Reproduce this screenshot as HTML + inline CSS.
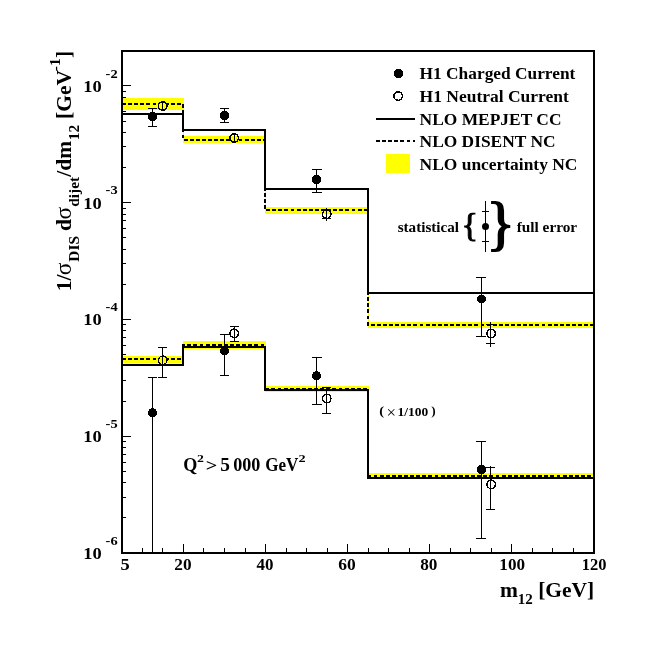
<!DOCTYPE html>
<html><head><meta charset="utf-8"><title>dijet mass</title>
<style>
html,body{margin:0;padding:0;background:#fff;}
body{width:656px;height:654px;overflow:hidden;}
svg{display:block;}
text{font-family:"Liberation Serif","DejaVu Serif",serif;font-weight:bold;fill:#000;}
</style></head><body>
<svg width="656" height="654" viewBox="0 0 656 654">
<rect x="0" y="0" width="656" height="654" fill="#fff"/>
<g shape-rendering="crispEdges">
<rect x="122.0" y="98.0" width="62.0" height="12.0" fill="#ffff00"/>
<rect x="183.0" y="110.0" width="1" height="26.0" fill="#ffff00"/>
<rect x="183.0" y="136.0" width="83.0" height="7.0" fill="#ffff00"/>
<rect x="265.0" y="143.0" width="1" height="64.0" fill="#ffff00"/>
<rect x="265.0" y="207.0" width="104.0" height="7.0" fill="#ffff00"/>
<rect x="368.0" y="214.0" width="1" height="108.0" fill="#ffff00"/>
<rect x="368.0" y="322.0" width="226.0" height="6.0" fill="#ffff00"/>
<rect x="122.0" y="356.0" width="62.0" height="7.0" fill="#ffff00"/>
<rect x="183.0" y="349.0" width="1" height="7.0" fill="#ffff00"/>
<rect x="183.0" y="341.0" width="83.0" height="8.0" fill="#ffff00"/>
<rect x="265.0" y="349.0" width="1" height="37.0" fill="#ffff00"/>
<rect x="265.0" y="386.0" width="104.0" height="6.0" fill="#ffff00"/>
<rect x="368.0" y="392.0" width="1" height="81.0" fill="#ffff00"/>
<rect x="368.0" y="473.0" width="226.0" height="5.0" fill="#ffff00"/>
<rect x="386" y="154" width="24" height="19" fill="#ffff00"/>
<path d="M122.0 104.0 H183.0 V140.0 H265.0 V210.0 H368.0 V325.0 H594.0" fill="none" stroke="#000" stroke-width="2" stroke-dasharray="3.9 2.2"/>
<path d="M122.0 359.0 H183.0 V345.0 H265.0 V389.0 H368.0 V476.0 H594.0" fill="none" stroke="#000" stroke-width="2" stroke-dasharray="3.9 2.2"/>
<path d="M122.0 114.0 H183.0 V130.0 H265.0 V189.0 H368.0 V293.0 H594.0" fill="none" stroke="#000" stroke-width="2" stroke-linejoin="miter"/>
<path d="M122.0 365.0 H183.0 V347.0 H265.0 V390.0 H368.0 V478.0 H594.0" fill="none" stroke="#000" stroke-width="2" stroke-linejoin="miter"/>
<rect x="122.0" y="51.0" width="472.0" height="502.0" fill="none" stroke="#000" stroke-width="2"/>
<line x1="122.0" x2="126.0" y1="517.5" y2="517.5" stroke="#000" stroke-width="1"/>
<line x1="122.0" x2="126.0" y1="497.5" y2="497.5" stroke="#000" stroke-width="1"/>
<line x1="122.0" x2="126.0" y1="482.5" y2="482.5" stroke="#000" stroke-width="1"/>
<line x1="122.0" x2="126.0" y1="471.5" y2="471.5" stroke="#000" stroke-width="1"/>
<line x1="122.0" x2="126.0" y1="462.5" y2="462.5" stroke="#000" stroke-width="1"/>
<line x1="122.0" x2="126.0" y1="454.5" y2="454.5" stroke="#000" stroke-width="1"/>
<line x1="122.0" x2="126.0" y1="447.5" y2="447.5" stroke="#000" stroke-width="1"/>
<line x1="122.0" x2="126.0" y1="441.5" y2="441.5" stroke="#000" stroke-width="1"/>
<line x1="122.0" x2="131.0" y1="436.5" y2="436.5" stroke="#000" stroke-width="1"/>
<line x1="122.0" x2="126.0" y1="401.5" y2="401.5" stroke="#000" stroke-width="1"/>
<line x1="122.0" x2="126.0" y1="380.5" y2="380.5" stroke="#000" stroke-width="1"/>
<line x1="122.0" x2="126.0" y1="365.5" y2="365.5" stroke="#000" stroke-width="1"/>
<line x1="122.0" x2="126.0" y1="354.5" y2="354.5" stroke="#000" stroke-width="1"/>
<line x1="122.0" x2="126.0" y1="345.5" y2="345.5" stroke="#000" stroke-width="1"/>
<line x1="122.0" x2="126.0" y1="337.5" y2="337.5" stroke="#000" stroke-width="1"/>
<line x1="122.0" x2="126.0" y1="330.5" y2="330.5" stroke="#000" stroke-width="1"/>
<line x1="122.0" x2="126.0" y1="324.5" y2="324.5" stroke="#000" stroke-width="1"/>
<line x1="122.0" x2="131.0" y1="319.5" y2="319.5" stroke="#000" stroke-width="1"/>
<line x1="122.0" x2="126.0" y1="284.5" y2="284.5" stroke="#000" stroke-width="1"/>
<line x1="122.0" x2="126.0" y1="263.5" y2="263.5" stroke="#000" stroke-width="1"/>
<line x1="122.0" x2="126.0" y1="249.5" y2="249.5" stroke="#000" stroke-width="1"/>
<line x1="122.0" x2="126.0" y1="237.5" y2="237.5" stroke="#000" stroke-width="1"/>
<line x1="122.0" x2="126.0" y1="228.5" y2="228.5" stroke="#000" stroke-width="1"/>
<line x1="122.0" x2="126.0" y1="220.5" y2="220.5" stroke="#000" stroke-width="1"/>
<line x1="122.0" x2="126.0" y1="214.5" y2="214.5" stroke="#000" stroke-width="1"/>
<line x1="122.0" x2="126.0" y1="208.5" y2="208.5" stroke="#000" stroke-width="1"/>
<line x1="122.0" x2="131.0" y1="202.5" y2="202.5" stroke="#000" stroke-width="1"/>
<line x1="122.0" x2="126.0" y1="167.5" y2="167.5" stroke="#000" stroke-width="1"/>
<line x1="122.0" x2="126.0" y1="146.5" y2="146.5" stroke="#000" stroke-width="1"/>
<line x1="122.0" x2="126.0" y1="132.5" y2="132.5" stroke="#000" stroke-width="1"/>
<line x1="122.0" x2="126.0" y1="121.5" y2="121.5" stroke="#000" stroke-width="1"/>
<line x1="122.0" x2="126.0" y1="111.5" y2="111.5" stroke="#000" stroke-width="1"/>
<line x1="122.0" x2="126.0" y1="103.5" y2="103.5" stroke="#000" stroke-width="1"/>
<line x1="122.0" x2="126.0" y1="97.5" y2="97.5" stroke="#000" stroke-width="1"/>
<line x1="122.0" x2="126.0" y1="91.5" y2="91.5" stroke="#000" stroke-width="1"/>
<line x1="122.0" x2="131.0" y1="85.5" y2="85.5" stroke="#000" stroke-width="1"/>
<line x1="142.5" x2="142.5" y1="553.0" y2="548.0" stroke="#000" stroke-width="1"/>
<line x1="162.5" x2="162.5" y1="553.0" y2="548.0" stroke="#000" stroke-width="1"/>
<line x1="183.5" x2="183.5" y1="553.0" y2="544.0" stroke="#000" stroke-width="1"/>
<line x1="203.5" x2="203.5" y1="553.0" y2="548.0" stroke="#000" stroke-width="1"/>
<line x1="224.5" x2="224.5" y1="553.0" y2="548.0" stroke="#000" stroke-width="1"/>
<line x1="245.5" x2="245.5" y1="553.0" y2="548.0" stroke="#000" stroke-width="1"/>
<line x1="265.5" x2="265.5" y1="553.0" y2="544.0" stroke="#000" stroke-width="1"/>
<line x1="286.5" x2="286.5" y1="553.0" y2="548.0" stroke="#000" stroke-width="1"/>
<line x1="306.5" x2="306.5" y1="553.0" y2="548.0" stroke="#000" stroke-width="1"/>
<line x1="327.5" x2="327.5" y1="553.0" y2="548.0" stroke="#000" stroke-width="1"/>
<line x1="347.5" x2="347.5" y1="553.0" y2="544.0" stroke="#000" stroke-width="1"/>
<line x1="368.5" x2="368.5" y1="553.0" y2="548.0" stroke="#000" stroke-width="1"/>
<line x1="388.5" x2="388.5" y1="553.0" y2="548.0" stroke="#000" stroke-width="1"/>
<line x1="409.5" x2="409.5" y1="553.0" y2="548.0" stroke="#000" stroke-width="1"/>
<line x1="429.5" x2="429.5" y1="553.0" y2="544.0" stroke="#000" stroke-width="1"/>
<line x1="450.5" x2="450.5" y1="553.0" y2="548.0" stroke="#000" stroke-width="1"/>
<line x1="470.5" x2="470.5" y1="553.0" y2="548.0" stroke="#000" stroke-width="1"/>
<line x1="491.5" x2="491.5" y1="553.0" y2="548.0" stroke="#000" stroke-width="1"/>
<line x1="511.5" x2="511.5" y1="553.0" y2="544.0" stroke="#000" stroke-width="1"/>
<line x1="532.5" x2="532.5" y1="553.0" y2="548.0" stroke="#000" stroke-width="1"/>
<line x1="552.5" x2="552.5" y1="553.0" y2="548.0" stroke="#000" stroke-width="1"/>
<line x1="573.5" x2="573.5" y1="553.0" y2="548.0" stroke="#000" stroke-width="1"/>
</g>
<clipPath id="c0"><circle cx="162.5" cy="105.9" r="4.4"/></clipPath><g clip-path="url(#c0)"><rect x="156.5" y="99.9" width="12" height="12" fill="#fff"/><rect x="156.5" y="98" width="12" height="12.0" fill="#ffff00"/></g>
<g stroke="#000" stroke-width="1" shape-rendering="crispEdges"><line x1="162.5" x2="162.5" y1="103.0" y2="108.8"/></g>
<path fill-rule="evenodd" fill="#000" shape-rendering="crispEdges" d="M157.70 106.0a5.0 5.0 0 1 0 10.0 0a5.0 5.0 0 1 0 -10.0 0zM159.25 106.0a3.45 3.45 0 1 0 6.9 0a3.45 3.45 0 1 0 -6.9 0z"/>
<clipPath id="c1"><circle cx="234.5" cy="137.9" r="4.4"/></clipPath><g clip-path="url(#c1)"><rect x="228.5" y="131.9" width="12" height="12" fill="#fff"/><rect x="228.5" y="136" width="12" height="7.0" fill="#ffff00"/></g>
<g stroke="#000" stroke-width="1" shape-rendering="crispEdges"><line x1="234.5" x2="234.5" y1="135.0" y2="141.0"/></g>
<path fill-rule="evenodd" fill="#000" shape-rendering="crispEdges" d="M229.20 138.0a5.0 5.0 0 1 0 10.0 0a5.0 5.0 0 1 0 -10.0 0zM230.75 138.0a3.45 3.45 0 1 0 6.9 0a3.45 3.45 0 1 0 -6.9 0z"/>
<clipPath id="c2"><circle cx="326.5" cy="214.1" r="4.4"/></clipPath><g clip-path="url(#c2)"><rect x="320.5" y="208.1" width="12" height="12" fill="#fff"/><rect x="320.5" y="207" width="12" height="7.0" fill="#ffff00"/></g>
<g stroke="#000" stroke-width="1" shape-rendering="crispEdges"><line x1="326.5" x2="326.5" y1="208.0" y2="220.9"/><line x1="322.0" x2="331.0" y1="209.5" y2="209.5"/><line x1="322.0" x2="331.0" y1="218.5" y2="218.5"/></g>
<path fill-rule="evenodd" fill="#000" shape-rendering="crispEdges" d="M321.70 214.2a5.0 5.0 0 1 0 10.0 0a5.0 5.0 0 1 0 -10.0 0zM323.25 214.2a3.45 3.45 0 1 0 6.9 0a3.45 3.45 0 1 0 -6.9 0z"/>
<clipPath id="c3"><circle cx="490.5" cy="333.4" r="4.4"/></clipPath><g clip-path="url(#c3)"><rect x="484.5" y="327.4" width="12" height="12" fill="#fff"/><rect x="484.5" y="322" width="12" height="6.0" fill="#ffff00"/></g>
<g stroke="#000" stroke-width="1" shape-rendering="crispEdges"><line x1="490.5" x2="490.5" y1="322.0" y2="347.0"/><line x1="486.0" x2="495.0" y1="324.5" y2="324.5"/><line x1="486.0" x2="495.0" y1="343.5" y2="343.5"/></g>
<path fill-rule="evenodd" fill="#000" shape-rendering="crispEdges" d="M486.20 333.5a5.0 5.0 0 1 0 10.0 0a5.0 5.0 0 1 0 -10.0 0zM487.75 333.5a3.45 3.45 0 1 0 6.9 0a3.45 3.45 0 1 0 -6.9 0z"/>
<clipPath id="c4"><circle cx="162.5" cy="360.2" r="4.4"/></clipPath><g clip-path="url(#c4)"><rect x="156.5" y="354.2" width="12" height="12" fill="#fff"/><rect x="156.5" y="356" width="12" height="7.0" fill="#ffff00"/></g>
<g stroke="#000" stroke-width="1" shape-rendering="crispEdges"><line x1="162.5" x2="162.5" y1="347.5" y2="377.9"/><line x1="158.0" x2="167.0" y1="347.5" y2="347.5"/><line x1="158.0" x2="167.0" y1="377.5" y2="377.5"/></g>
<path fill-rule="evenodd" fill="#000" shape-rendering="crispEdges" d="M157.70 360.3a5.0 5.0 0 1 0 10.0 0a5.0 5.0 0 1 0 -10.0 0zM159.25 360.3a3.45 3.45 0 1 0 6.9 0a3.45 3.45 0 1 0 -6.9 0z"/>
<clipPath id="c5"><circle cx="234.5" cy="333.2" r="4.4"/></clipPath><g clip-path="url(#c5)"><rect x="228.5" y="327.2" width="12" height="12" fill="#fff"/><rect x="228.5" y="341" width="12" height="8.0" fill="#ffff00"/></g>
<g stroke="#000" stroke-width="1" shape-rendering="crispEdges"><line x1="234.5" x2="234.5" y1="326.5" y2="341.9"/><line x1="230.0" x2="239.0" y1="326.5" y2="326.5"/><line x1="230.0" x2="239.0" y1="341.5" y2="341.5"/></g>
<path fill-rule="evenodd" fill="#000" shape-rendering="crispEdges" d="M229.20 333.3a5.0 5.0 0 1 0 10.0 0a5.0 5.0 0 1 0 -10.0 0zM230.75 333.3a3.45 3.45 0 1 0 6.9 0a3.45 3.45 0 1 0 -6.9 0z"/>
<clipPath id="c6"><circle cx="326.5" cy="398.4" r="4.4"/></clipPath><g clip-path="url(#c6)"><rect x="320.5" y="392.4" width="12" height="12" fill="#fff"/><rect x="320.5" y="386" width="12" height="6.0" fill="#ffff00"/></g>
<g stroke="#000" stroke-width="1" shape-rendering="crispEdges"><line x1="326.5" x2="326.5" y1="387.5" y2="413.4"/><line x1="322.0" x2="331.0" y1="387.5" y2="387.5"/><line x1="322.0" x2="331.0" y1="413.3" y2="413.3"/></g>
<path fill-rule="evenodd" fill="#000" shape-rendering="crispEdges" d="M321.70 398.5a5.0 5.0 0 1 0 10.0 0a5.0 5.0 0 1 0 -10.0 0zM323.25 398.5a3.45 3.45 0 1 0 6.9 0a3.45 3.45 0 1 0 -6.9 0z"/>
<clipPath id="c7"><circle cx="490.5" cy="484.3" r="4.4"/></clipPath><g clip-path="url(#c7)"><rect x="484.5" y="478.3" width="12" height="12" fill="#fff"/><rect x="484.5" y="473" width="12" height="5.0" fill="#ffff00"/></g>
<g stroke="#000" stroke-width="1" shape-rendering="crispEdges"><line x1="490.5" x2="490.5" y1="466.2" y2="510.0"/><line x1="486.0" x2="495.0" y1="467.5" y2="467.5"/><line x1="486.0" x2="495.0" y1="509.6" y2="509.6"/></g>
<path fill-rule="evenodd" fill="#000" shape-rendering="crispEdges" d="M486.20 484.40000000000003a5.0 5.0 0 1 0 10.0 0a5.0 5.0 0 1 0 -10.0 0zM487.75 484.40000000000003a3.45 3.45 0 1 0 6.9 0a3.45 3.45 0 1 0 -6.9 0z"/>
<g stroke="#000" stroke-width="1" shape-rendering="crispEdges"><line x1="152.5" x2="152.5" y1="108.5" y2="126.9"/><line x1="148.0" x2="157.0" y1="108.5" y2="108.5"/><line x1="148.0" x2="157.0" y1="126.5" y2="126.5"/></g>
<circle cx="152.5" cy="116.5" r="4.6" fill="#000" shape-rendering="crispEdges"/>
<g stroke="#000" stroke-width="1" shape-rendering="crispEdges"><line x1="224.5" x2="224.5" y1="108.5" y2="122.9"/><line x1="220.0" x2="229.0" y1="108.5" y2="108.5"/><line x1="220.0" x2="229.0" y1="122.5" y2="122.5"/></g>
<circle cx="224.5" cy="115.5" r="4.6" fill="#000" shape-rendering="crispEdges"/>
<g stroke="#000" stroke-width="1" shape-rendering="crispEdges"><line x1="316.5" x2="316.5" y1="169.3" y2="192.9"/><line x1="312.0" x2="322.0" y1="169.3" y2="169.3"/><line x1="312.0" x2="322.0" y1="192.5" y2="192.5"/></g>
<circle cx="316.5" cy="179.5" r="4.6" fill="#000" shape-rendering="crispEdges"/>
<g stroke="#000" stroke-width="1" shape-rendering="crispEdges"><line x1="481.5" x2="481.5" y1="277.5" y2="337.3"/><line x1="476.0" x2="486.0" y1="277.5" y2="277.5"/><line x1="476.0" x2="486.0" y1="336.5" y2="336.5"/></g>
<circle cx="481.5" cy="299.0" r="4.6" fill="#000" shape-rendering="crispEdges"/>
<g stroke="#000" stroke-width="1" shape-rendering="crispEdges"><line x1="152.5" x2="152.5" y1="377.5" y2="553.0"/><line x1="148.0" x2="157.0" y1="377.5" y2="377.5"/></g>
<circle cx="152.5" cy="412.8" r="4.6" fill="#000" shape-rendering="crispEdges"/>
<g stroke="#000" stroke-width="1" shape-rendering="crispEdges"><line x1="224.5" x2="224.5" y1="334.5" y2="375.9"/><line x1="220.0" x2="229.0" y1="334.5" y2="334.5"/><line x1="220.0" x2="229.0" y1="375.5" y2="375.5"/></g>
<circle cx="224.5" cy="351.0" r="4.6" fill="#000" shape-rendering="crispEdges"/>
<g stroke="#000" stroke-width="1" shape-rendering="crispEdges"><line x1="316.5" x2="316.5" y1="357.5" y2="404.9"/><line x1="312.0" x2="322.0" y1="357.5" y2="357.5"/><line x1="312.0" x2="322.0" y1="404.5" y2="404.5"/></g>
<circle cx="316.5" cy="375.7" r="4.6" fill="#000" shape-rendering="crispEdges"/>
<g stroke="#000" stroke-width="1" shape-rendering="crispEdges"><line x1="481.5" x2="481.5" y1="441.5" y2="539.0"/><line x1="476.0" x2="486.0" y1="441.5" y2="441.5"/><line x1="476.0" x2="486.0" y1="538.5" y2="538.5"/></g>
<circle cx="481.5" cy="469.5" r="4.6" fill="#000" shape-rendering="crispEdges"/>
<circle cx="398.5" cy="73.5" r="4.6" fill="#000" shape-rendering="crispEdges"/>
<path fill-rule="evenodd" fill="#000" shape-rendering="crispEdges" d="M393.20 96.1a5.0 5.0 0 1 0 10.0 0a5.0 5.0 0 1 0 -10.0 0zM394.75 96.1a3.45 3.45 0 1 0 6.9 0a3.45 3.45 0 1 0 -6.9 0z"/>
<g shape-rendering="crispEdges" stroke="#000" stroke-width="2"><line x1="376" x2="415" y1="119" y2="119"/><line x1="376" x2="415" y1="141" y2="141" stroke-dasharray="3.9 2.2"/></g>
<text x="419.6" y="79.2" font-size="17.2" textLength="155.8" lengthAdjust="spacingAndGlyphs">H1 Charged Current</text>
<text x="419.6" y="102.0" font-size="17.2" textLength="149.2" lengthAdjust="spacingAndGlyphs">H1 Neutral Current</text>
<text x="419.6" y="125.0" font-size="17.2" textLength="141.9" lengthAdjust="spacingAndGlyphs">NLO MEPJET CC</text>
<text x="419.6" y="147.0" font-size="17.2" textLength="135.9" lengthAdjust="spacingAndGlyphs">NLO DISENT NC</text>
<text x="419.6" y="169.9" font-size="17.2" textLength="157.8" lengthAdjust="spacingAndGlyphs">NLO uncertainty NC</text>
<text x="397.65" y="231.6" font-size="14.2" textLength="61.42" lengthAdjust="spacingAndGlyphs">statistical</text>
<text x="516.69" y="231.6" font-size="14.2" textLength="60.46" lengthAdjust="spacingAndGlyphs">full error</text>
<g stroke="#000" stroke-width="1" shape-rendering="crispEdges"><line x1="485.5" x2="485.5" y1="201.2" y2="251.7"/><line x1="481.9" x2="489.1" y1="211.2" y2="211.2"/><line x1="481.9" x2="489.1" y1="241.2" y2="241.2"/></g>
<circle cx="485.5" cy="226.5" r="3.5" fill="#000"/>
<text x="461.6" y="235.5" font-size="34.5" style="font-weight:normal" stroke="#000" stroke-width="1">{</text>
<text x="486.4" y="243.2" font-size="59" style="font-weight:normal" stroke="#000" stroke-width="1.6">}</text>
<text x="379.25" y="415.3" font-size="12" textLength="4.83" lengthAdjust="spacingAndGlyphs">(</text>
<text x="386.56" y="418.1" font-size="17" textLength="9.47" lengthAdjust="spacingAndGlyphs" style="font-weight:normal">×</text>
<text x="397.52" y="415.6" font-size="12.2" textLength="30.69" lengthAdjust="spacingAndGlyphs">1/100</text>
<text x="431.17" y="415.3" font-size="12" textLength="4.40" lengthAdjust="spacingAndGlyphs">)</text>
<text x="183.19" y="470.6" font-size="18.3" textLength="14.08" lengthAdjust="spacingAndGlyphs">Q</text>
<text x="197.02" y="462.4" font-size="11" textLength="6.87" lengthAdjust="spacingAndGlyphs">2</text>
<text x="205.69" y="470.6" font-size="17.5" textLength="11.52" lengthAdjust="spacingAndGlyphs">&gt;</text>
<text x="220.32" y="470.6" font-size="17.8" textLength="9.70" lengthAdjust="spacingAndGlyphs">5</text>
<text x="233.22" y="470.6" font-size="17.8" textLength="27.16" lengthAdjust="spacingAndGlyphs">000</text>
<text x="265.25" y="470.6" font-size="18.0" textLength="33.15" lengthAdjust="spacingAndGlyphs">GeV</text>
<text x="298.60" y="462.4" font-size="11" textLength="7.11" lengthAdjust="spacingAndGlyphs">2</text>
<text x="83.3" y="91.8" font-size="16" textLength="18.4" lengthAdjust="spacingAndGlyphs">10</text><text x="105.6" y="77.6" font-size="12.8" textLength="12.05" lengthAdjust="spacingAndGlyphs">-2</text>
<text x="83.3" y="208.6" font-size="16" textLength="18.4" lengthAdjust="spacingAndGlyphs">10</text><text x="105.6" y="194.4" font-size="12.8" textLength="12.05" lengthAdjust="spacingAndGlyphs">-3</text>
<text x="83.3" y="325.4" font-size="16" textLength="18.4" lengthAdjust="spacingAndGlyphs">10</text><text x="105.6" y="311.2" font-size="12.8" textLength="12.05" lengthAdjust="spacingAndGlyphs">-4</text>
<text x="83.3" y="442.2" font-size="16" textLength="18.4" lengthAdjust="spacingAndGlyphs">10</text><text x="105.6" y="428.0" font-size="12.8" textLength="12.05" lengthAdjust="spacingAndGlyphs">-5</text>
<text x="83.3" y="559.0" font-size="16" textLength="18.4" lengthAdjust="spacingAndGlyphs">10</text><text x="105.6" y="544.8" font-size="12.8" textLength="12.05" lengthAdjust="spacingAndGlyphs">-6</text>
<text x="120.46" y="569.6" font-size="15.8" textLength="9.23" lengthAdjust="spacingAndGlyphs">5</text>
<text x="174.37" y="569.6" font-size="15.8" textLength="17.28" lengthAdjust="spacingAndGlyphs">20</text>
<text x="256.59" y="569.6" font-size="15.8" textLength="16.95" lengthAdjust="spacingAndGlyphs">40</text>
<text x="338.39" y="569.6" font-size="15.8" textLength="17.47" lengthAdjust="spacingAndGlyphs">60</text>
<text x="420.24" y="569.6" font-size="15.8" textLength="17.20" lengthAdjust="spacingAndGlyphs">80</text>
<text x="499.33" y="569.6" font-size="15.8" textLength="25.71" lengthAdjust="spacingAndGlyphs">100</text>
<text x="581.78" y="569.6" font-size="15.8" textLength="24.74" lengthAdjust="spacingAndGlyphs">120</text>
<text x="594.3" y="597.0" font-size="21.5" text-anchor="end">m<tspan dy="7" font-size="15">12</tspan><tspan dy="-7"> [GeV]</tspan></text>
<g transform="translate(71.0,0) rotate(-90)">
<text x="-291.3" y="0.0" font-size="21.5">1/</text><text x="-275.2" y="0.0" font-size="23.5" style="font-weight:normal">σ</text><text x="-261.7" y="8.1" font-size="15.4">DIS</text><text x="-231.0" y="0.0" font-size="21.5">d</text><text x="-219.6" y="0.0" font-size="23.5" style="font-weight:normal">σ</text><text x="-206.8" y="8.1" font-size="15.4">dijet</text><text x="-176.7" y="0.0" font-size="21.5">/dm</text><text x="-140.2" y="8.1" font-size="15.4">12</text><text x="-119.0" y="0.0" font-size="21.5">[GeV</text><text x="-71.2" y="-10.8" font-size="15.4">-1</text><text x="-58.0" y="0.0" font-size="21.5">]</text></g>
</svg>
</body></html>
